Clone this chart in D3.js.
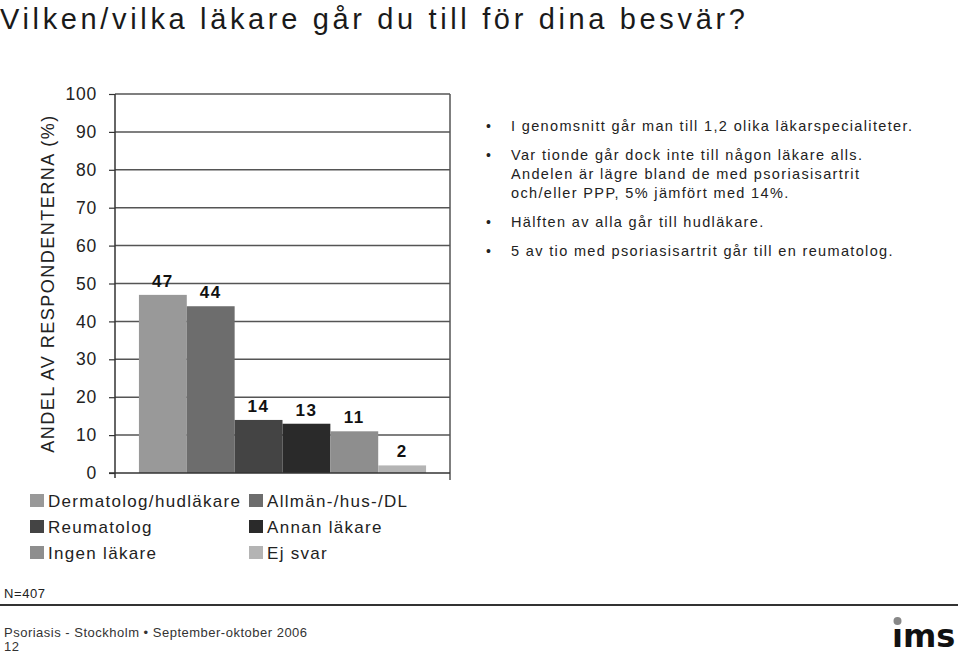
<!DOCTYPE html>
<html>
<head>
<meta charset="utf-8">
<script src="https://cdn.jsdelivr.net/npm/d3@7"></script>
<style>
  body { margin: 0; background: #fff; }
  svg { display: block; font-family: "Liberation Sans", Arial, sans-serif; }
</style>
</head>
<body>
<div id="chart"></div>
<script>
// values
const categories = ["Dermatolog/hudläkare", "Allmän-/hus-/DL", "Reumatolog", "Annan läkare", "Ingen läkare", "Ej svar"];
const shares = [47, 44, 14, 13, 11, 2];
const barColors = ["#999999", "#6d6d6d", "#444444", "#2a2a2a", "#8e8e8e", "#b4b4b4"];
const yTicks = [0, 10, 20, 30, 40, 50, 60, 70, 80, 90, 100];
const bullets = [
  ["I genomsnitt går man till 1,2 olika läkarspecialiteter."],
  ["Var tionde går dock inte till någon läkare alls.", "Andelen är lägre bland de med psoriasisartrit", "och/eller PPP, 5% jämfört med 14%."],
  ["Hälften av alla går till hudläkare."],
  ["5 av tio med psoriasisartrit går till en reumatolog."]
];

const W = 960, H = 654;
const svg = d3.select("#chart").append("svg")
  .attr("width", W).attr("height", H);

svg.append("text")
  .attr("x", 0).attr("y", 29)
  .attr("font-size", 29)
  .attr("letter-spacing", "3.65px")
  .attr("fill", "#1a1a1a")
  .text("Vilken/vilka läkare går du till för dina besvär?");

// plot area
const plotL = 115, plotR = 450, plotT = 94, plotB = 473;

const x = d3.scaleBand().domain(categories).range([plotL, plotR])
  .paddingInner(0).paddingOuter(0.5);
const y = d3.scaleLinear().domain([0, 100]).range([plotB, plotT]);

// gridlines
svg.append("g").selectAll("line")
  .data(yTicks.filter(d => d > 0))
  .enter().append("line")
  .attr("x1", plotL).attr("x2", plotR)
  .attr("y1", d => y(d)).attr("y2", d => y(d))
  .attr("stroke", "#555").attr("stroke-width", 1.5);

// right frame
svg.append("line")
  .attr("x1", plotR).attr("x2", plotR)
  .attr("y1", plotT).attr("y2", plotB + 7)
  .attr("stroke", "#555").attr("stroke-width", 1.5);

// bars
svg.append("g").selectAll("rect")
  .data(shares)
  .enter().append("rect")
  .attr("x", (d, i) => x(categories[i]))
  .attr("y", d => y(d))
  .attr("width", x.bandwidth())
  .attr("height", d => plotB - y(d))
  .attr("fill", (d, i) => barColors[i]);

// value labels
svg.append("g").selectAll("text")
  .data(shares)
  .enter().append("text")
  .attr("x", (d, i) => x(categories[i]) + x.bandwidth() / 2)
  .attr("y", d => y(d) - 8)
  .attr("text-anchor", "middle")
  .attr("font-size", 17)
  .attr("font-weight", "bold")
  .attr("letter-spacing", "1.5px")
  .attr("fill", "#111")
  .text(d => d);

// y axis
const yAxis = d3.axisLeft(y).tickValues(yTicks).tickSize(6).tickPadding(12);
const ga = svg.append("g")
  .attr("transform", `translate(${plotL},0)`)
  .call(yAxis);
ga.select(".domain").remove();
ga.selectAll(".tick line").attr("stroke", "#333").attr("stroke-width", 1.2);
ga.selectAll(".tick text")
  .attr("font-size", 17.5)
  .attr("letter-spacing", "0.8px")
  .attr("font-family", "Liberation Sans, Arial, sans-serif")
  .attr("fill", "#222");

svg.append("line")
  .attr("x1", plotL).attr("x2", plotL)
  .attr("y1", plotT).attr("y2", plotB + 5)
  .attr("stroke", "#333").attr("stroke-width", 1.5);
svg.append("line")
  .attr("x1", plotL - 6).attr("x2", plotR)
  .attr("y1", plotB).attr("y2", plotB)
  .attr("stroke", "#333").attr("stroke-width", 1.5);

svg.append("text")
  .attr("transform", `translate(54,${(plotT + plotB) / 2}) rotate(-90)`)
  .attr("text-anchor", "middle")
  .attr("font-size", 18)
  .attr("letter-spacing", "1.5px")
  .attr("fill", "#222")
  .text("ANDEL AV RESPONDENTERNA (%)");

// legend
const legend = svg.append("g").selectAll("g")
  .data(categories)
  .enter().append("g")
  .attr("transform", (d, i) => `translate(${i % 2 ? 249 : 30},${494 + Math.floor(i / 2) * 26})`);
legend.append("rect")
  .attr("width", 14).attr("height", 13)
  .attr("fill", (d, i) => barColors[i]);
legend.append("text")
  .attr("x", 18).attr("y", 13)
  .attr("font-size", 17)
  .attr("letter-spacing", "1.3px")
  .attr("fill", "#222")
  .text(d => d);

// commentary
let ty = 131;
const notes = svg.append("g");
bullets.forEach((lines) => {
  notes.append("text")
    .attr("x", 486).attr("y", ty)
    .attr("font-size", 14).attr("fill", "#222")
    .text("•");
  lines.forEach((ln, li) => {
    notes.append("text")
      .attr("x", 511).attr("y", ty + li * 19)
      .attr("font-size", 14.5)
      .attr("letter-spacing", "1.35px")
      .attr("fill", "#222")
      .text(ln);
  });
  ty += (lines.length - 1) * 19 + 29;
});

// footer
svg.append("text")
  .attr("x", 4).attr("y", 598)
  .attr("font-size", 13).attr("letter-spacing", "0.6px").attr("fill", "#222")
  .text("N=407");
svg.append("line")
  .attr("x1", 0).attr("x2", 958)
  .attr("y1", 605).attr("y2", 605)
  .attr("stroke", "#333").attr("stroke-width", 2);
svg.append("text")
  .attr("x", 4).attr("y", 637)
  .attr("font-size", 13).attr("letter-spacing", "0.5px").attr("fill", "#333")
  .text("Psoriasis - Stockholm • September-oktober 2006");
svg.append("text")
  .attr("x", 4).attr("y", 651)
  .attr("font-size", 13).attr("letter-spacing", "0.5px").attr("fill", "#333")
  .text("12");

// logo
svg.append("text")
  .attr("x", 892).attr("y", 647)
  .attr("font-family", "DejaVu Sans, sans-serif")
  .attr("font-weight", "bold")
  .attr("font-size", 32)
  .attr("fill", "#111")
  .text("\u0131ms");
svg.append("circle")
  .attr("cx", 897.5).attr("cy", 621).attr("r", 4)
  .attr("fill", "#888");
</script>
</body>
</html>
